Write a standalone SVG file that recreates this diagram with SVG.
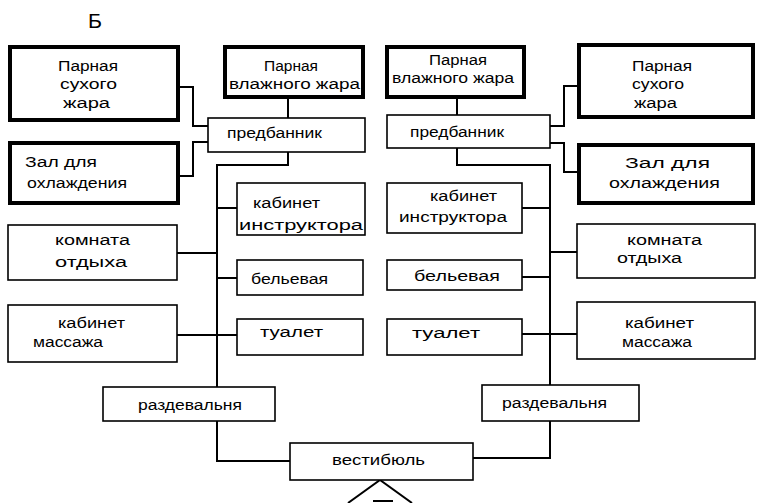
<svg xmlns="http://www.w3.org/2000/svg" width="757" height="503" viewBox="0 0 757 503">
<style>
.thick{fill:#fff;stroke:#000;stroke-width:4}
.thin{fill:#fff;stroke:#000;stroke-width:1.6}
.c{fill:none;stroke:#000;stroke-width:2}
text{font-family:"Liberation Sans",Arial,sans-serif;font-size:15.5px;fill:#000}
</style>
<rect width="757" height="503" fill="#fff"/>
<text x="88" y="28" textLength="14" lengthAdjust="spacingAndGlyphs" style="font-size:21px">Б</text>
<g id="connectors">
<path class="c" d="M178,87 H193 V126 H208"/>
<path class="c" d="M178,176 H193 V142 H208"/>
<path class="c" d="M288,97 V118"/>
<path class="c" d="M288,152 V165 H217 V387"/>
<path class="c" d="M217,208 H237"/>
<path class="c" d="M177,253 H217"/>
<path class="c" d="M217,278 H237"/>
<path class="c" d="M177,335 H237"/>
<path class="c" d="M217,421 V461 H290"/>
<path class="c" d="M457,97 V115"/>
<path class="c" d="M457,148 V165 H550 V385"/>
<path class="c" d="M550,126 H564 V86 H579"/>
<path class="c" d="M550,143 H564 V172 H579"/>
<path class="c" d="M522,208 H550"/>
<path class="c" d="M550,252 H577"/>
<path class="c" d="M522,277 H550"/>
<path class="c" d="M522,334 H577"/>
<path class="c" d="M550,421 V458 H473"/>
<path class="c" d="M348,503 L380,480 L412,503" stroke-width="3"/>
<path class="c" d="M373,501 H393" stroke-width="3"/>
</g>
<g id="l-suhogo"><rect class="thick" x="10" y="47" width="168" height="73"/>
<text x="58" y="71" textLength="60" lengthAdjust="spacingAndGlyphs">Парная</text>
<text x="60" y="89" textLength="57" lengthAdjust="spacingAndGlyphs">сухого</text>
<text x="63" y="108" textLength="47" lengthAdjust="spacingAndGlyphs">жара</text></g>
<g id="l-vlazhnogo"><rect class="thick" x="225" y="47" width="138" height="50"/>
<text x="264" y="71" textLength="54" lengthAdjust="spacingAndGlyphs">Парная</text>
<text x="229" y="89" textLength="131" lengthAdjust="spacingAndGlyphs">влажного жара</text></g>
<g id="l-predbannik"><rect class="thin" x="208" y="118" width="157" height="34"/>
<text x="227" y="138" textLength="95" lengthAdjust="spacingAndGlyphs">предбанник</text></g>
<g id="l-zal"><rect class="thick" x="10" y="143" width="168" height="60"/>
<text x="25" y="167" textLength="72" lengthAdjust="spacingAndGlyphs">Зал  для</text>
<text x="27" y="188" textLength="100" lengthAdjust="spacingAndGlyphs">охлаждения</text></g>
<g id="l-instruktor"><rect class="thin" x="237" y="183" width="128" height="52"/>
<text x="253" y="208" textLength="67" lengthAdjust="spacingAndGlyphs">кабинет</text>
<text x="239" y="230" textLength="124" lengthAdjust="spacingAndGlyphs">инструктора</text></g>
<g id="l-komnata"><rect class="thin" x="8" y="225" width="169" height="55"/>
<text x="55" y="245" textLength="75" lengthAdjust="spacingAndGlyphs">комната</text>
<text x="55" y="267" textLength="72" lengthAdjust="spacingAndGlyphs">отдыха</text></g>
<g id="l-belevaya"><rect class="thin" x="237" y="260" width="126" height="35"/>
<text x="251" y="284" textLength="77" lengthAdjust="spacingAndGlyphs">бельевая</text></g>
<g id="l-massazh"><rect class="thin" x="8" y="305" width="169" height="57"/>
<text x="58" y="328" textLength="67" lengthAdjust="spacingAndGlyphs">кабинет</text>
<text x="33" y="347" textLength="70" lengthAdjust="spacingAndGlyphs">массажа</text></g>
<g id="l-tualet"><rect class="thin" x="237" y="319" width="126" height="36"/>
<text x="260" y="337" textLength="63" lengthAdjust="spacingAndGlyphs">туалет</text></g>
<g id="l-razdevalnya"><rect class="thin" x="103" y="387" width="172" height="34"/>
<text x="138" y="410" textLength="104" lengthAdjust="spacingAndGlyphs">раздевальня</text></g>
<g id="vestibyul"><rect class="thin" x="290" y="443" width="183" height="37"/>
<text x="332" y="465" textLength="93" lengthAdjust="spacingAndGlyphs">вестибюль</text></g>
<g id="r-vlazhnogo"><rect class="thick" x="387" y="47" width="137" height="50"/>
<text x="429" y="65" textLength="58" lengthAdjust="spacingAndGlyphs">Парная</text>
<text x="392" y="83" textLength="122" lengthAdjust="spacingAndGlyphs">влажного жара</text></g>
<g id="r-predbannik"><rect class="thin" x="387" y="115" width="163" height="33"/>
<text x="410" y="137" textLength="94" lengthAdjust="spacingAndGlyphs">предбанник</text></g>
<g id="r-suhogo"><rect class="thick" x="579" y="45" width="174" height="72"/>
<text x="632" y="71" textLength="60" lengthAdjust="spacingAndGlyphs">Парная</text>
<text x="632" y="89" textLength="52" lengthAdjust="spacingAndGlyphs">сухого</text>
<text x="634" y="108" textLength="43" lengthAdjust="spacingAndGlyphs">жара</text></g>
<g id="r-zal"><rect class="thick" x="579" y="145" width="174" height="58"/>
<text x="625" y="168" textLength="85" lengthAdjust="spacingAndGlyphs">Зал для</text>
<text x="609" y="188" textLength="111" lengthAdjust="spacingAndGlyphs">охлаждения</text></g>
<g id="r-instruktor"><rect class="thin" x="387" y="183" width="135" height="50"/>
<text x="430" y="201" textLength="67" lengthAdjust="spacingAndGlyphs">кабинет</text>
<text x="399" y="222" textLength="108" lengthAdjust="spacingAndGlyphs">инструктора</text></g>
<g id="r-komnata"><rect class="thin" x="577" y="224" width="178" height="54"/>
<text x="627" y="245" textLength="75" lengthAdjust="spacingAndGlyphs">комната</text>
<text x="617" y="263" textLength="65" lengthAdjust="spacingAndGlyphs">отдыха</text></g>
<g id="r-belevaya"><rect class="thin" x="387" y="260" width="135" height="30"/>
<text x="414" y="281" textLength="86" lengthAdjust="spacingAndGlyphs">бельевая</text></g>
<g id="r-massazh"><rect class="thin" x="577" y="302" width="178" height="57"/>
<text x="625" y="328" textLength="69" lengthAdjust="spacingAndGlyphs">кабинет</text>
<text x="622" y="347" textLength="70" lengthAdjust="spacingAndGlyphs">массажа</text></g>
<g id="r-tualet"><rect class="thin" x="387" y="319" width="135" height="36"/>
<text x="412" y="338" textLength="68" lengthAdjust="spacingAndGlyphs">туалет</text></g>
<g id="r-razdevalnya"><rect class="thin" x="482" y="385" width="157" height="36"/>
<text x="502" y="408" textLength="105" lengthAdjust="spacingAndGlyphs">раздевальня</text></g>
</svg>
